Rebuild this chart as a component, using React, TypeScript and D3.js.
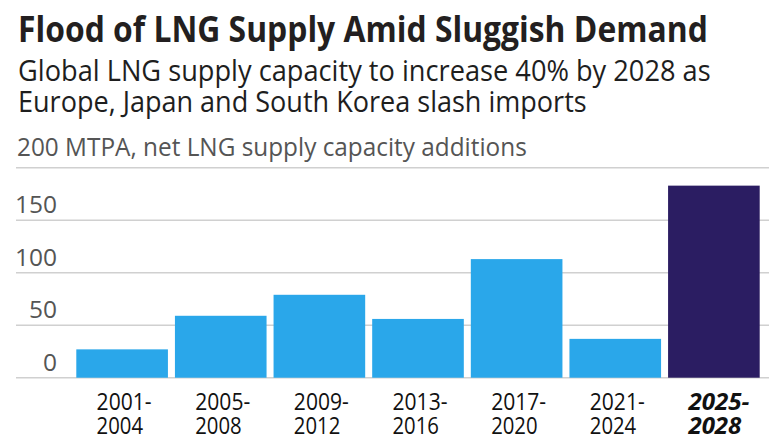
import React, { useLayoutEffect, useRef, useState } from "react";
import * as d3 from "d3";

const categories = ["2001-2004", "2005-2008", "2009-2012", "2013-2016", "2017-2020", "2021-2024", "2025-2028"];
const values = [27, 59, 79, 56, 113, 37, 183];
const highlight = [false, false, false, false, false, false, true];
const yTicks = [0, 50, 100, 150];

const title = "Flood of LNG Supply Amid Sluggish Demand";
const subtitleLines = ["Global LNG supply capacity to increase 40% by 2028 as", "Europe, Japan and South Korea slash imports"];
const axisTitle = "200 MTPA, net LNG supply capacity additions";

const W = 780;
const H = 446;
const FONT = "'Open Sans', 'Noto Sans', sans-serif";

function FitText({ x, y, width, children, ...rest }: any) {
  const ref = useRef<SVGTextElement>(null);
  const [s, setS] = useState(1);
  useLayoutEffect(() => {
    const el = ref.current;
    if (!el) return;
    const w = el.getComputedTextLength();
    if (w > 0) setS(width / w);
  }, [width]);
  return (
    <text ref={ref} transform={`translate(${x},${y}) scale(${s},1)`} {...rest}>
      {children}
    </text>
  );
}

export default function App() {
  const x = d3.scaleBand<string>().domain(categories).range([72.8, 763.2]).paddingInner(0.071).paddingOuter(0.0355);
  const y = d3.scaleLinear().domain([0, 200]).range([377.7, 167.8]);

  return (
    <svg width={W} height={H} style={{ position: "absolute", left: 0, top: 0, background: "#fff" }} fontFamily={FONT}>
      <rect width={W} height={H} fill="#fff" />
      <FitText x={18} y={42} width={690} fontSize={35.5} fontWeight={700} fill="#231f20">{title}</FitText>
      {subtitleLines.map((s, i) => (
        <FitText key={i} x={18} y={81 + i * 30.5} width={i === 0 ? 693 : 569} fontSize={30} fill="#1e1e1e">{s}</FitText>
      ))}
      <FitText x={17} y={156} width={510} fontSize={25.5} fill="#555">{axisTitle}</FitText>

      {[...yTicks, 200].map((t) => (
        <line key={t} x1={16} x2={769} y1={y(t)} y2={y(t)} stroke="#d0d0d0" strokeWidth={1.5} />
      ))}
      {yTicks.map((t) => (
        <text key={t} x={57} y={y(t) - 7} fontSize={24.5} fill="#555" textAnchor="end">{t}</text>
      ))}

      {categories.map((c, i) => (
        <rect key={c} x={x(c)} y={y(values[i])} width={x.bandwidth()} height={y(0) - y(values[i])}
          fill={highlight[i] ? "#2b1d62" : "#2aa7ea"} />
      ))}

      {categories.map((c, i) => {
        const [a, b] = c.split("-");
        const hi = highlight[i];
        const cx = (x(c) as number) + x.bandwidth() / 2 - 25.5;
        return (
          <g key={c} fontSize={23.5} fill="#111" fontWeight={hi ? 700 : 400} fontStyle={hi ? "italic" : "normal"}>
            <FitText x={cx} y={410} width={hi ? 61 : 55}>{a + "-"}</FitText>
            <FitText x={cx} y={433.5} width={hi ? 53 : 46.5}>{b}</FitText>
          </g>
        );
      })}
    </svg>
  );
}
